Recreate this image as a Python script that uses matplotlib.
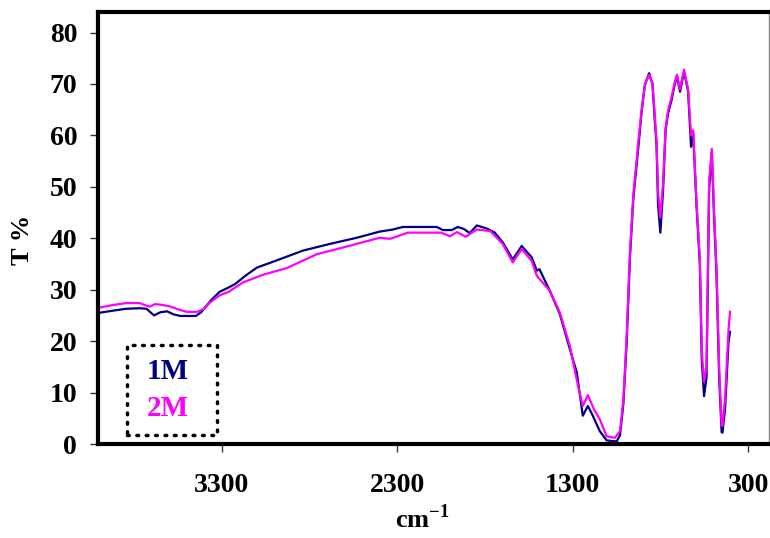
# ИК-спектры образцов 1M и 2M

import matplotlib
matplotlib.use('Agg')
import matplotlib.pyplot as plt
from matplotlib.patches import Rectangle

plt.rcParams['font.family'] = ['Liberation Serif', 'DejaVu Serif']
plt.rcParams['font.weight'] = 'bold'
plt.rcParams['mathtext.fontset'] = 'custom'
plt.rcParams['mathtext.rm'] = 'Liberation Serif:bold'
plt.rcParams['mathtext.bf'] = 'Liberation Serif:bold'

# волновые числа (cm-1) и пропускание (%) для 1M
wn_1m = [4000, 3925, 3845, 3768, 3729, 3686, 3651, 3612, 3574, 3535, 3448, 3418,
         3360, 3312, 3263, 3224, 3166, 3100, 2987, 2838, 2685, 2531, 2400, 2326,
         2269, 2075, 2040, 1990, 1955, 1920, 1887, 1847, 1790, 1744, 1699, 1642,
         1591, 1534, 1505, 1490, 1431, 1374, 1317, 1277, 1243, 1214, 1186, 1146,
         1107, 1050, 1031, 1012, 993, 974, 955, 927, 908, 889, 865, 846, 833, 823,
         814, 801, 786, 771, 757, 737, 718, 706, 689, 666, 643, 626, 614, 595, 576,
         565, 552, 538, 523, 508, 496, 481, 466, 452, 447, 432, 413, 404]
t_1m = [25.5, 25.9, 26.3, 26.4, 26.3, 25.0, 25.6, 25.8, 25.2, 24.9, 24.9, 25.6,
        28.0, 29.6, 30.4, 31.1, 32.7, 34.3, 35.7, 37.6, 38.9, 40.1, 41.3, 41.7,
        42.2, 42.2, 41.6, 41.6, 42.2, 41.8, 41.0, 42.5, 41.9, 41.1, 39.2, 35.9,
        38.5, 36.3, 33.7, 34.0, 29.8, 25.3, 18.5, 13.9, 5.5, 7.4, 5.5, 2.5,
        0.7, 0.5, 1.7, 7.7, 19.7, 36.4, 47.7, 57.5, 64.5, 69.8, 72.1, 70.0, 63.0, 58.4,
        46.4, 41.1, 49.1, 61.1, 64.3, 66.9, 70.1, 71.4, 68.5, 72.4, 68.6, 57.8, 60.5, 46.4, 35.0,
        16.3, 9.3, 13.0, 49.7, 56.8, 45.1, 33.1, 13.0, 2.3, 2.2, 7.0, 19.7, 21.8]

# то же для 2M
wn_2m = [4000, 3925, 3845, 3768, 3712, 3680, 3650, 3600, 3540, 3500, 3440, 3400,
         3368, 3312, 3260, 3180, 3066, 2930, 2759, 2610, 2400, 2340, 2240, 2050,
         2000, 1960, 1910, 1847, 1770, 1699, 1642, 1591, 1534, 1505, 1431, 1374,
         1317, 1270, 1243, 1214, 1180, 1146, 1107, 1060, 1031, 1012, 993, 974, 955,
         927, 908, 889, 865, 846, 833, 823, 814, 801, 786, 771, 757, 737, 718, 706,
         689, 666, 643, 626, 614, 595, 576, 565, 552, 538, 523, 508, 496, 481, 466,
         452, 447, 432, 413, 404]
t_2m = [26.5, 27.0, 27.4, 27.4, 26.7, 27.2, 27.1, 26.8, 26.1, 25.7, 25.7, 26.3,
        27.5, 28.9, 29.6, 31.4, 32.9, 34.2, 36.9, 38.2, 40.1, 39.9, 41.1, 41.1,
        40.4, 41.2, 40.3, 41.7, 41.4, 38.9, 35.3, 37.9, 35.6, 32.7, 29.8, 25.6,
        19.1, 11.3, 7.4, 9.5, 6.8, 4.8, 1.5, 1.2, 2.5, 8.5, 21.0, 37.5, 48.5,
        58.5, 65.0, 70.0, 71.8, 70.2, 64.0, 59.0, 49.0, 44.0, 50.5, 61.5, 64.8, 67.5, 70.5, 71.8,
        69.0, 72.8, 69.0, 60.0, 61.0, 47.0, 36.0, 18.0, 12.1, 15.0, 51.0, 57.4, 46.0, 34.0, 15.0,
        3.7, 3.5, 9.0, 22.0, 25.7]

x_ticks = [3300, 2300, 1300, 300]
y_ticks = [0, 10, 20, 30, 40, 50, 60, 70, 80]
labels = ['1M', '2M']
colors = ['#000080', '#FF00FF']

fig = plt.figure(figsize=(7.7, 5.38), dpi=100)
ax = fig.add_axes([0.1273, 0.1747, 0.8714, 0.8030])

ax.plot(wn_1m, t_1m, color=colors[0], linewidth=1.6)
ax.plot(wn_2m, t_2m, color=colors[1], linewidth=1.6)

ax.set_xlim(4005, 182)
ax.set_ylim(0, 84)
ax.set_xticks(x_ticks)
ax.set_yticks(y_ticks)
ax.tick_params(axis='both', direction='out', length=6, width=1, color='#333333',
               labelsize=20)
ax.tick_params(axis='x', pad=15)
ax.tick_params(axis='y', pad=9)

for side in ['left', 'bottom', 'top']:
    ax.spines[side].set_linewidth(3)
    ax.spines[side].set_color('black')
ax.spines['right'].set_linewidth(1)
ax.spines['right'].set_color('#888888')

ax.set_ylabel('T %', fontsize=19, fontweight='bold')
ax.yaxis.set_label_coords(-0.095, 0.472)
ax.set_xlabel(r'cm$^{\mathbf{-1}}$', fontsize=19, fontweight='bold')
ax.xaxis.set_label_coords(0.483, -0.14)

# легенда в пунктирной рамке
ax.add_patch(Rectangle((0.043, 0.021), 0.134, 0.208, transform=ax.transAxes,
                       fill=False, linestyle=(0, (0.5, 2.2)), linewidth=2.5,
                       edgecolor='black', capstyle='round'))
ax.text(0.104, 0.167, labels[0], color=colors[0], transform=ax.transAxes,
        fontsize=21, fontweight='bold', ha='center', va='center')
ax.text(0.104, 0.083, labels[1], color=colors[1], transform=ax.transAxes,
        fontsize=21, fontweight='bold', ha='center', va='center')

fig.savefig('out.png', dpi=100)
